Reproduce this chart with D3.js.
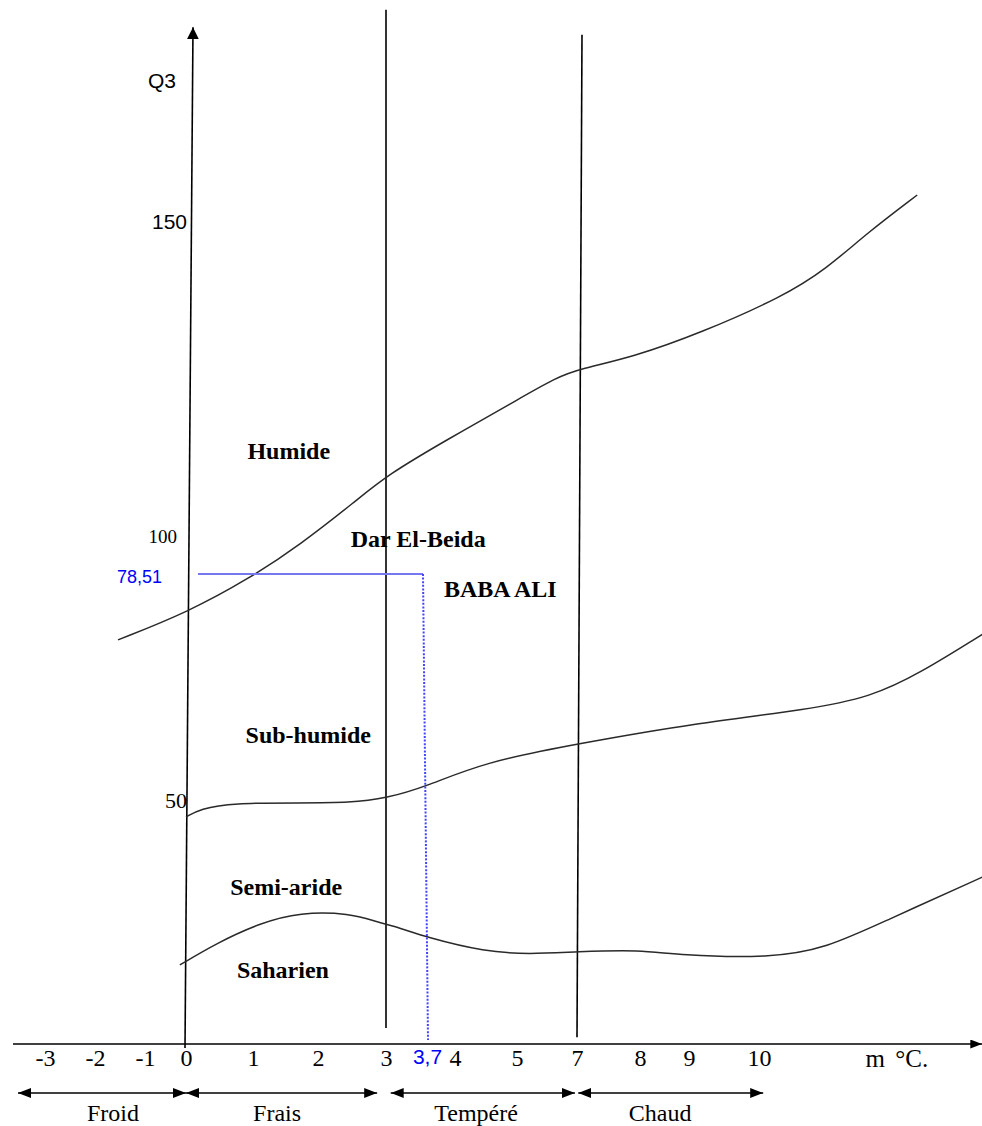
<!DOCTYPE html>
<html><head><meta charset="utf-8">
<script src="https://cdn.jsdelivr.net/npm/d3@7"></script>
<style>body{margin:0;background:#fff} svg{display:block}</style>
</head><body>
<svg id="chart" width="982" height="1126"></svg>
<script>
// ---------------- DATA ----------------
const xTicks = [-3, -2, -1, 0, 1, 2, 3, 3.7, 4, 5, 7, 8, 9, 10];
const xTickLabels = ["-3", "-2", "-1", "0", "1", "2", "3", "3,7", "4", "5", "7", "8", "9", "10"];
const yTicks = [50, 100, 150];
const yTickLabels = ["50", "100", "150"];
const xAxisTitle = "m °C.";
const yAxisTitle = "Q3";

// climate boundary curves [m, Q3]
const limitHumide = [[-1.54,70.2],[0.03,73.7],[0.955,78.0],[1.72,94.9],[2.57,105.7],[3.02,109.7],[3.91,115.3],[4.94,121.3],[6.33,125.3],[7.05,126.6],[7.89,128.5],[9.16,132.3],[10.34,138.1],[10.97,142.6],[11.54,148.2],[12.26,154.3]];
const limitSubHumide = [[0,46.5],[0.21,48.2],[0.70,49.4],[1.72,49.4],[2.47,49.4],[3.02,50.25],[3.65,51.6],[4.48,54.8],[7.02,57.1],[9.11,59.7],[10.7,61.4],[11.6,63.0],[12.3,66.0],[13.19,70.9]];
const limitSemiAride = [[-0.15,16.2],[0.46,20.7],[1.11,24.8],[1.72,27.0],[2.47,26.8],[2.87,25.0],[3.24,23.8],[3.68,21.9],[4.48,18.9],[5.43,18.4],[6.97,18.9],[8.02,19.3],[8.78,18.2],[10.17,17.6],[10.97,19.7],[11.77,25.0],[13.19,34.2]];

// station
const stationM = 3.7;
const stationQ = 78.51;
const stationQLabel = "78,51";

// zone boundary lines (m) and their vertical extent in Q3
const zoneLineM = [3, 7];
const zoneLineQ0 = [3.3, 1.4];
const zoneLineQ1 = [183.8, 179.8];

// thermal zones
const zoneNames = ["Froid", "Frais", "Tempéré", "Chaud"];
const zoneFrom = [-3.54, 0, 3.08, 7.02];
const zoneTo = [0, 2.87, 6.93, 10.06];
const zoneLabelM = [-1.64, 1.37, 4.34, 8.41];

// region labels (data coords)
const regionNames = ["Humide", "Dar El-Beida", "BABA ALI", "Sub-humide", "Semi-aride", "Saharien"];
const regionM = [1.55, 3.55, 4.73, 1.85, 1.51, 1.46];
const regionQ = [112.3, 93.8, 75.6, 57.2, 30.5, 13.5];

// axis extents
const xAxisMin = -3.64, xAxisMax = 13.19;
const yAxisTop = 181;

// ---------------- SCALES ----------------
const x = d3.scaleLinear()
  .domain([-3, -2, -1, 0, 1, 2, 3, 3.7, 4, 5, 7, 8, 9, 10])
  .range([45, 95, 145, 186, 253, 318, 386, 427, 455, 517, 577, 640, 689, 759]);
const y = d3.scaleLinear()
  .domain([0, 50, 78.51, 100, 150])
  .range([1044, 800, 574, 536, 222]);

const svg = d3.select("#chart");
const serif = "'Liberation Serif','Times New Roman',serif";
const sans = "'Liberation Sans',Arial,sans-serif";

// markers
const defs = svg.append("defs");
function marker(id, len, half) {
  defs.append("marker").attr("id", id)
    .attr("viewBox", `0 0 ${len} ${half * 2}`)
    .attr("refX", len).attr("refY", half)
    .attr("markerWidth", len).attr("markerHeight", half * 2)
    .attr("markerUnits", "userSpaceOnUse")
    .attr("orient", "auto-start-reverse")
    .append("path").attr("d", `M0,0L${len},${half}L0,${half * 2}Z`).attr("fill", "#000");
}
marker("arrZone", 13, 5);
marker("arrX", 12, 4.5);
marker("arrY", 12, 6);

// ---------------- AXES ----------------
svg.append("line")
  .attr("x1", x(xAxisMin)).attr("x2", x(xAxisMax))
  .attr("y1", y(0)).attr("y2", y(0))
  .attr("stroke", "#000").attr("stroke-width", 1.6)
  .attr("marker-end", "url(#arrX)");

const yLean = 7;
svg.append("line")
  .attr("x1", x(0) - 1).attr("y1", y(0) + 4)
  .attr("x2", x(0) + yLean).attr("y2", y(yAxisTop))
  .attr("stroke", "#000").attr("stroke-width", 1.6)
  .attr("marker-end", "url(#arrY)");

const gx = svg.append("g")
  .attr("transform", `translate(0,${y(0)})`)
  .call(d3.axisBottom(x).tickValues(xTicks).tickSize(0).tickPadding(5)
    .tickFormat((d, i) => xTickLabels[i]));
gx.select(".domain").remove();
gx.selectAll("text")
  .attr("font-family", d => d === stationM ? sans : serif)
  .attr("font-size", d => d === stationM ? 21 : 24)
  .attr("fill", d => d === stationM ? "#0000ff" : "#000");

svg.append("text").attr("x", x(11.97)).attr("y", y(0) + 23)
  .attr("text-anchor", "middle").attr("font-family", serif).attr("font-size", 25)
  .attr("word-spacing", 4)
  .text(xAxisTitle);

const gy = svg.append("g")
  .attr("transform", `translate(${x(0) + 3},0)`)
  .call(d3.axisLeft(y).tickValues(yTicks).tickSize(0).tickPadding(2)
    .tickFormat((d, i) => yTickLabels[i]));
gy.select(".domain").remove();
gy.selectAll("text")
  .attr("font-family", d => d === 150 ? sans : serif)
  .attr("font-size", d => d === 150 ? 21 : (d === 100 ? 19 : 22))
  .attr("dx", d => d === 100 ? -10 : 0)
  .attr("fill", "#000");

svg.append("text").attr("x", x(0) - 24).attr("y", y(171.3))
  .attr("text-anchor", "middle").attr("font-family", sans).attr("font-size", 21)
  .text(yAxisTitle);

// ---------------- ZONE LINES ----------------
const zoneLean = [0, 5];
svg.append("g").selectAll("line").data(zoneLineM).join("line")
  .attr("x1", (d, i) => x(d)).attr("y1", (d, i) => y(zoneLineQ0[i]))
  .attr("x2", (d, i) => x(d) + zoneLean[i]).attr("y2", (d, i) => y(zoneLineQ1[i]))
  .attr("stroke", "#000").attr("stroke-width", 1.6);

// ---------------- CURVES ----------------
const line = d3.line().x(d => x(d[0])).y(d => y(d[1])).curve(d3.curveBasis);
svg.append("g").selectAll("path")
  .data([limitHumide, limitSubHumide, limitSemiAride]).join("path")
  .attr("d", line).attr("fill", "none")
  .attr("stroke", "#2a2a2a").attr("stroke-width", 1.5);

// ---------------- STATION ----------------
svg.append("line")
  .attr("x1", x(0) + 12).attr("x2", x(stationM) - 4)
  .attr("y1", y(stationQ)).attr("y2", y(stationQ))
  .attr("stroke", "#7777f2").attr("stroke-width", 2);
svg.append("line")
  .attr("x1", x(stationM) - 4).attr("y1", y(stationQ))
  .attr("x2", x(stationM) + 1).attr("y2", y(0) - 4)
  .attr("stroke", "#4444ff").attr("stroke-width", 2)
  .attr("stroke-dasharray", "2,1.6");
svg.append("text").attr("x", x(0) - 24).attr("y", y(stationQ) + 9)
  .attr("text-anchor", "end").attr("font-family", sans).attr("font-size", 18)
  .attr("fill", "#0000ff").text(stationQLabel);

// ---------------- REGION LABELS ----------------
svg.append("g").selectAll("text").data(regionNames).join("text")
  .attr("x", (d, i) => x(regionM[i])).attr("y", (d, i) => y(regionQ[i]))
  .attr("text-anchor", "middle").attr("font-family", serif)
  .attr("font-weight", "bold").attr("font-size", 24)
  .text(d => d);

// ---------------- THERMAL ZONES ----------------
const zoneY = 1093;
const gz = svg.append("g");
gz.selectAll("line").data(zoneNames).join("line")
  .attr("x1", (d, i) => x(zoneFrom[i])).attr("x2", (d, i) => x(zoneTo[i]))
  .attr("y1", zoneY).attr("y2", zoneY)
  .attr("stroke", "#000").attr("stroke-width", 1.6)
  .attr("marker-start", "url(#arrZone)").attr("marker-end", "url(#arrZone)");
gz.selectAll("text").data(zoneNames).join("text")
  .attr("x", (d, i) => x(zoneLabelM[i]))
  .attr("y", zoneY + 28)
  .attr("text-anchor", "middle").attr("font-family", serif).attr("font-size", 24)
  .text(d => d);
</script>
</body></html>
